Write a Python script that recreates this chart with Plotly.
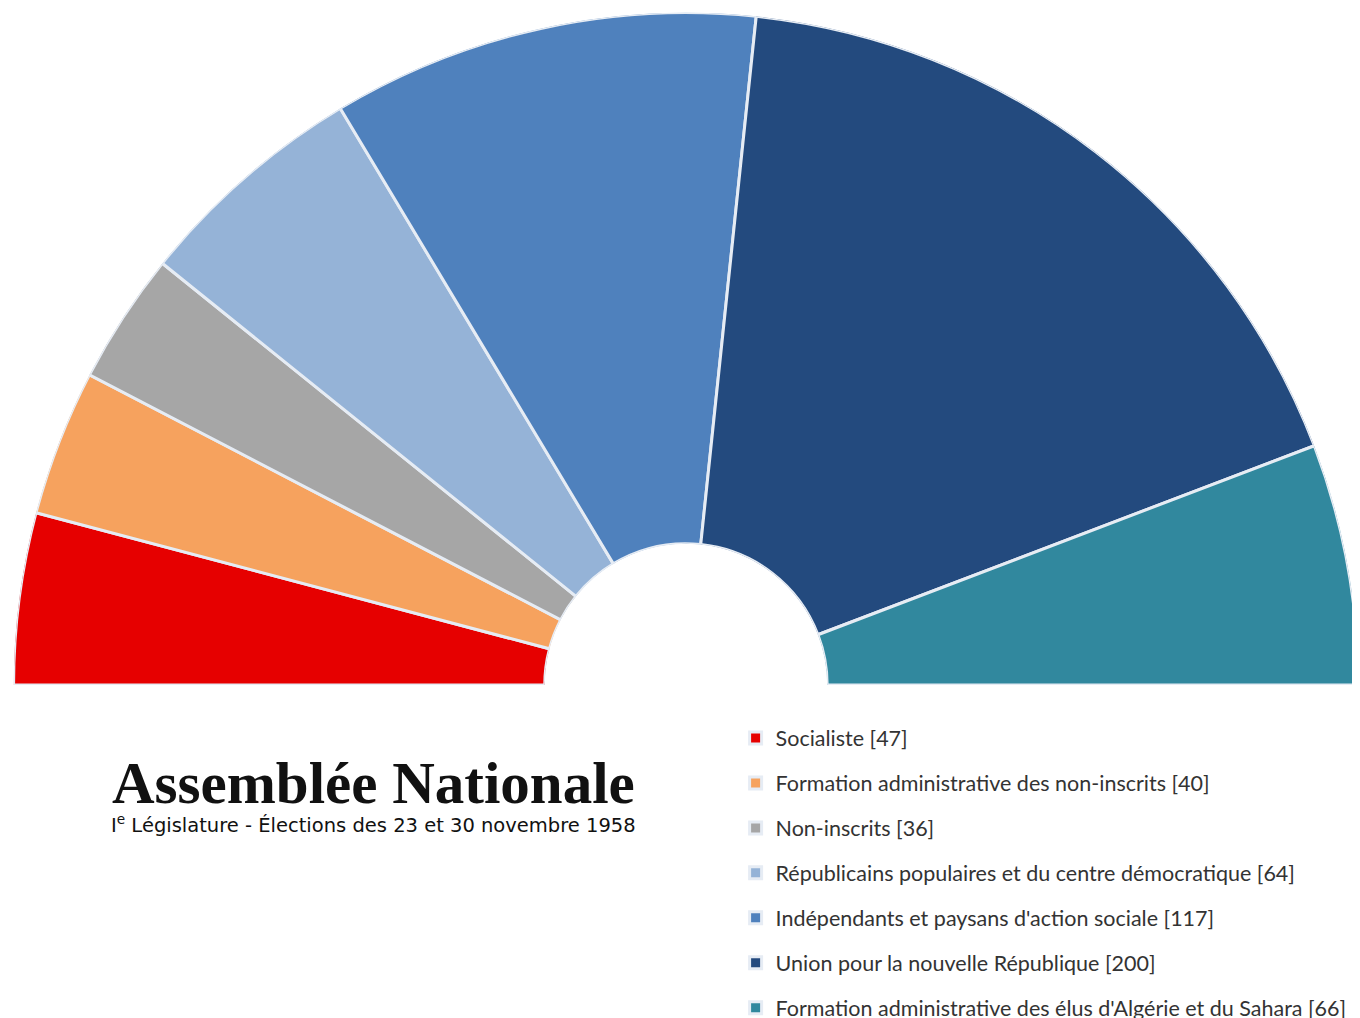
import plotly.graph_objects as go

parties = [
    "Socialiste",
    "Formation administrative des non-inscrits",
    "Non-inscrits",
    "Républicains populaires et du centre démocratique",
    "Indépendants et paysans d'action sociale",
    "Union pour la nouvelle République",
    "Formation administrative des élus d'Algérie et du Sahara",
]
seats = [47, 40, 36, 64, 117, 200, 66]
colors = ["#E60000", "#F6A25E", "#A6A6A6", "#95B3D7", "#4F81BD", "#234A7E", "#31889E"]

title_text = "<b>Assemblée Nationale</b>"
subtitle_text = "I<sup>e</sup> Législature - Élections des 23 et 30 novembre 1958"

total = sum(seats)
fig = go.Figure()
cum = 0
for name, v, c in zip(parties, seats, colors):
    width = v / total * 180.0
    center = 180.0 - (cum + v / 2) / total * 180.0
    cum += v
    fig.add_trace(go.Barpolar(
        r=[1], theta=[center], width=[width],
        name=f"{name} [{v}]",
        legendgroup=name,
        marker=dict(color=c, line=dict(color="#E6ECF4", width=3)),
        hoverinfo="name",
    ))

fig.update_layout(
    width=1360, height=1018,
    margin=dict(l=0, r=0, t=0, b=0, autoexpand=False),
    paper_bgcolor="white",
    plot_bgcolor="white",
    polar=dict(
        domain=dict(x=[0.0015, 0.9955], y=[0.335, 0.9955]),
        sector=[0, 180],
        hole=0.21,
        bgcolor="white",
        bargap=0,
        radialaxis=dict(visible=False, range=[0, 1]),
        angularaxis=dict(visible=False, direction="counterclockwise", rotation=0),
    ),
    legend=dict(
        x=0.535, y=0.303, xanchor="left", yanchor="top",
        font=dict(family="Lato", size=21.5, color="#333333"),
        tracegroupgap=14,
        traceorder="grouped",
        bgcolor="rgba(0,0,0,0)",
    ),
    showlegend=True,
    annotations=[
        dict(text=title_text, x=0.269, y=0.2385, xref="paper", yref="paper",
             xanchor="center", yanchor="middle", showarrow=False,
             font=dict(family="Liberation Serif", size=59, color="#111111")),
        dict(text=subtitle_text, x=0.269, y=0.1985, xref="paper", yref="paper",
             xanchor="center", yanchor="middle", showarrow=False,
             font=dict(family="DejaVu Sans", size=19.5, color="#111111")),
    ],
)

fig.write_html("out.html")
